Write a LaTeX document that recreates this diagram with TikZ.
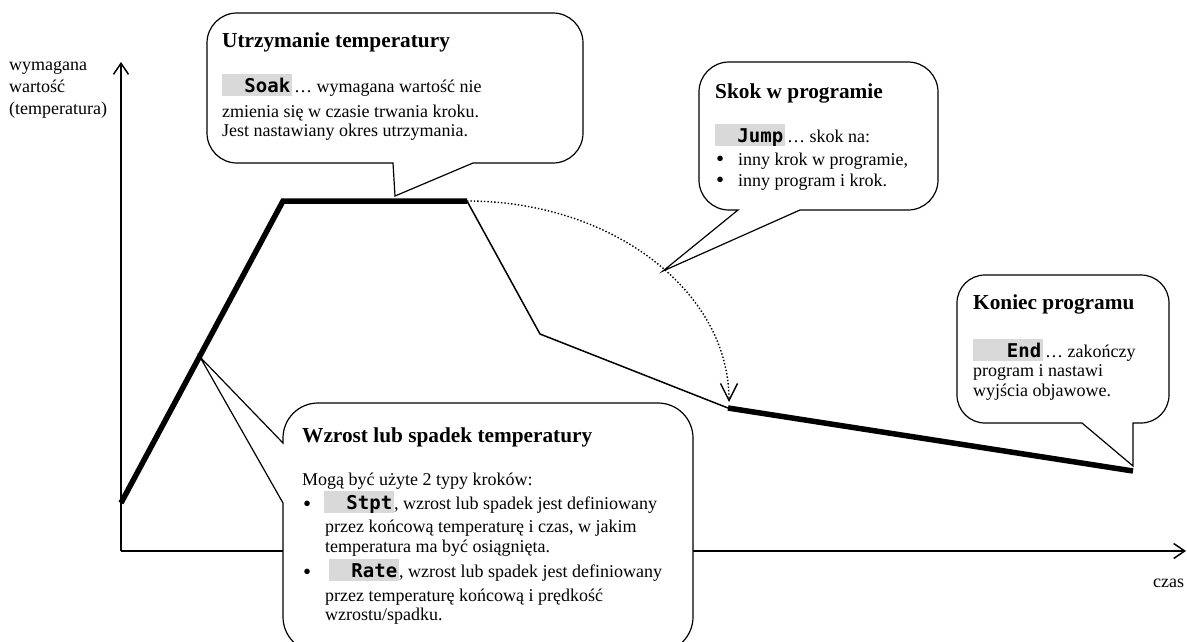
\documentclass[tikz,border=0pt]{standalone}
\usepackage{fontspec}
\setmainfont{Liberation Serif}
\newfontfamily\kfont{DejaVu Sans Mono}
\usetikzlibrary{arrows.meta}
\definecolor{kgray}{HTML}{D9D9D9}
\newcommand\kbox[1]{{\setlength\fboxsep{0pt}\colorbox{kgray}{\rule[-4pt]{0pt}{22pt}\makebox[68pt][r]{\fontsize{19}{21}\kfont\bfseries #1}\hspace{2pt}}}}
\newcommand\calloutbox[7]{%
\filldraw[callout] ({#1+#5},#2) -- ({#3-#5},#2)
 .. controls ({#3-0.448*#5},#2) and (#3,{#2+0.448*#5}) .. (#3,{#2+#5})
 -- (#3,{#4-#5})
 .. controls (#3,{#4-0.448*#5}) and ({#3-0.448*#5},#4) .. ({#3-#5},#4)
 #6 -- ({#1+#5},#4)
 .. controls ({#1+0.448*#5},#4) and (#1,{#4-0.448*#5}) .. (#1,{#4-#5})
 #7 -- (#1,{#2+#5})
 .. controls (#1,{#2+0.448*#5}) and ({#1+0.448*#5},#2) .. ({#1+#5},#2) -- cycle;}
\begin{document}
\begin{tikzpicture}[x=1pt,y=-1pt,
  txt/.style={anchor=base west,inner sep=0pt,font=\fontsize{18}{21}\selectfont},
  head/.style={anchor=base west,inner sep=0pt,font=\fontsize{21.3}{25}\selectfont\bfseries},
  bul/.style={anchor=base west,inner sep=0pt,font=\fontsize{23}{23}\selectfont},
  axis/.style={line width=1.5pt,-{Straight Barb[length=11pt,width=15pt]}},
  thickseg/.style={line width=5.5pt},
  thinseg/.style={line width=1.5pt},
  jumparrow/.style={line width=1.4pt,dash pattern=on 1.4pt off 2pt,-{Straight Barb[length=17pt,width=17pt]}},
  callout/.style={fill=white,draw=black,line width=1.2pt,line join=miter}]
\useasboundingbox (0,0) rectangle (1187,641);
\clip (0,0) rectangle (1187,641);
% axes
\coordinate (O) at (121,551);
\coordinate (Ytip) at (121,62);
\coordinate (Xtip) at (1186,551);
\draw[axis] (O) -- (Ytip);
\draw[axis] (O) -- (Xtip);
\node[txt] (yl1) at (9,70) {wymagana};
\node[txt] (yl2) at (9,92) {wartość};
\node[txt] (yl3) at (9,114) {(temperatura)};
\node[txt] (xl) at (1153,587) {czas};
% profile
\coordinate (P0) at (121,503);
\coordinate (P1) at (283,201);
\coordinate (P2) at (467,201);
\coordinate (P3) at (540,334);
\coordinate (P4) at (728,408);
\coordinate (P5) at (1133,471);
\coordinate (J) at (729,402);
\draw[thickseg] (P0) -- (P1) -- (P2);
\draw[thinseg] (P2) -- (P3) -- (P4);
\draw[thickseg] (P4) -- (P5);
\draw[jumparrow] (P2) .. controls (612,201) and (729,291) .. (J);
% callouts
\calloutbox{207}{13}{583}{163}{30}{-- (473,163) -- (395,196) -- (393,163)}{}
\calloutbox{699}{62}{938}{210}{30}{-- (800,210) -- (663,271) -- (738,210)}{}
\calloutbox{957}{275}{1169}{423}{28}{-- (1133,423) -- (1133,466) -- (1082,423)}{}
\calloutbox{283}{403}{693}{652}{35}{}{-- (283,503) -- (200,357) -- (283,443)}
% Soak
\node[head] (h1) at (222,47) {Utrzymanie temperatury};
\node[txt] (s1) at (222,92) {\kbox{Soak}\hspace{2pt}… wymagana wartość nie};
\node[txt] (s2) at (222,117) {zmienia się w czasie trwania kroku.};
\node[txt] (s3) at (222,136) {Jest nastawiany okres utrzymania.};
% Jump
\node[head] (h2) at (715,98) {Skok w programie};
\node[txt] (j1) at (715,142) {\kbox{Jump}\hspace{2pt}… skok na:};
\node[bul] (jb1) at (716,166) {•};
\node[txt] (j2) at (738,165) {inny krok w programie,};
\node[bul] (jb2) at (716,187) {•};
\node[txt] (j3) at (738,186) {inny program i krok.};
% End
\node[head] (h3) at (973,309) {Koniec programu};
\node[txt] (e1) at (973,357) {\kbox{End}\hspace{2pt}… zakończy};
\node[txt] (e2) at (973,376) {program i nastawi};
\node[txt] (e3) at (973,396) {wyjścia objawowe.};
% Rate/Stpt
\node[head] (h4) at (302,442) {Wzrost lub spadek temperatury};
\node[txt] (w1) at (302,485) {Mogą być użyte 2 typy kroków:};
\node[bul] (wb1) at (303,511) {•};
\node[txt] (w2) at (324,509) {\kbox{Stpt}, wzrost lub spadek jest definiowany};
\node[txt] (w3) at (325,532) {przez końcową temperaturę i czas, w jakim};
\node[txt] (w4) at (325,552) {temperatura ma być osiągnięta.};
\node[bul] (wb2) at (303,579) {•};
\node[txt] (w5) at (329,577) {\kbox{Rate}, wzrost lub spadek jest definiowany};
\node[txt] (w6) at (325,601) {przez temperaturę końcową i prędkość};
\node[txt] (w7) at (325,620) {wzrostu/spadku.};
\end{tikzpicture}
\end{document}
